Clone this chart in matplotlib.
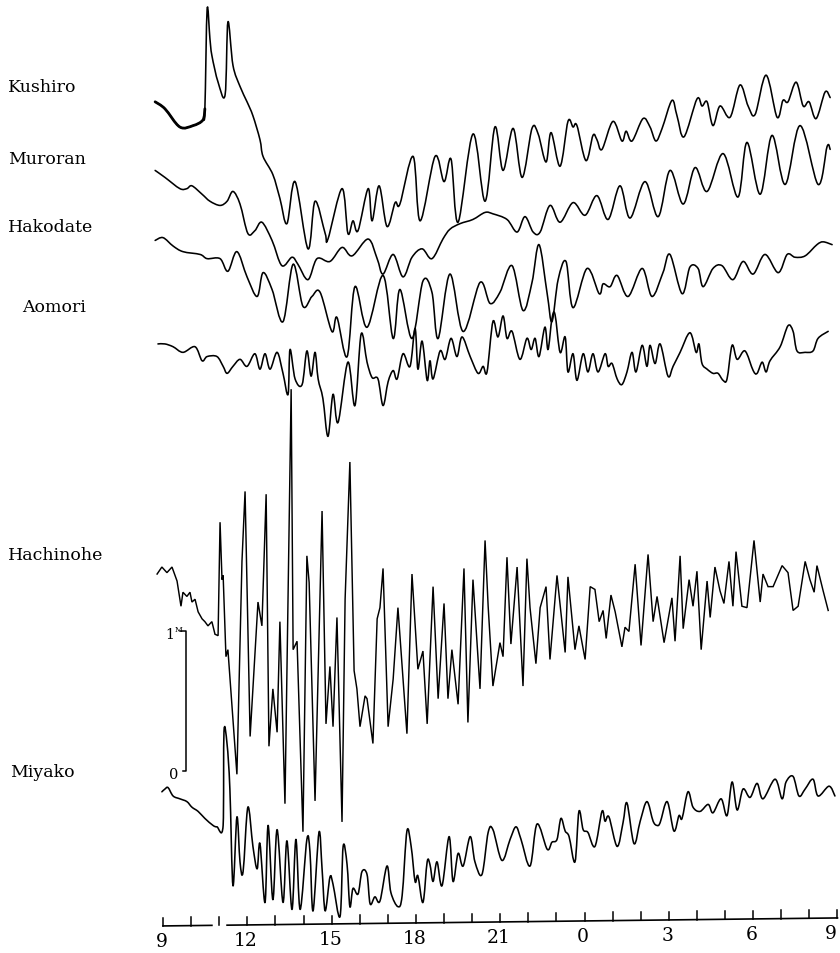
import numpy as np
import matplotlib
matplotlib.use("Agg")
import matplotlib.pyplot as plt
from matplotlib.path import Path
from matplotlib.patches import PathPatch

# Tide-gauge records: (hours after 09:00, water level in cm) for each station
kushiro = [(-0.28, -2), (0.07, -7), (0.60, -20), (1.07, -19), (1.42, -15), (1.49, -7),
           (1.57, 64), (1.67, 43), (1.74, 31), (1.96, 12), (2.21, 3), (2.31, 55),
           (2.49, 24), (2.74, 9), (2.99, -2), (3.20, -12), (3.45, -29), (3.56, -41),
           (3.91, -54), (4.16, -71), (4.41, -89), (4.70, -59), (5.16, -107), (5.41, -73),
           (5.77, -96), (5.87, -100), (6.37, -64), (6.58, -96), (6.76, -87), (6.94, -94),
           (7.30, -64), (7.44, -87), (7.69, -62), (7.97, -91), (8.26, -74), (8.43, -75),
           (8.90, -41), (9.15, -87), (9.68, -41), (10.00, -59), (10.25, -43), (10.50, -88),
           (11.03, -25), (11.46, -73), (11.81, -20), (12.10, -51), (12.46, -21), (12.78, -56),
           (13.13, -21), (13.35, -25), (13.63, -45), (13.81, -24), (14.13, -48), (14.41, -16),
           (14.59, -20), (14.73, -19), (15.05, -44), (15.30, -26), (15.44, -29), (15.62, -36),
           (16.01, -16), (16.33, -30), (16.48, -23), (16.69, -30), (17.08, -14), (17.33, -20),
           (17.54, -30), (17.76, -21), (18.11, -1), (18.29, -12), (18.54, -27), (19.00, 0),
           (19.18, -5), (19.36, -2), (19.57, -19), (19.82, -5), (20.18, -13), (20.53, 10),
           (20.82, -5), (21.07, -11), (21.46, 17), (21.85, -13), (22.06, -1), (22.24, -2),
           (22.53, 12), (22.78, -5), (22.99, -2), (23.24, -14), (23.56, 5), (23.74, 1)]

muroran = [(-0.28, -1), (0.07, -6), (0.60, -14), (0.85, -14), (1.03, -12), (1.39, -18),
           (1.67, -23), (2.03, -26), (2.28, -23), (2.49, -16), (2.74, -25), (3.02, -46),
           (3.27, -44), (3.52, -38), (3.88, -51), (4.23, -69), (4.59, -63), (4.80, -68),
           (5.16, -79), (5.48, -64), (5.94, -66), (6.37, -56), (6.73, -62), (7.30, -50),
           (7.62, -64), (7.83, -75), (8.19, -61), (8.54, -77), (8.86, -63), (9.22, -57),
           (9.57, -64), (9.96, -50), (10.21, -43), (10.57, -39), (11.03, -36), (11.46, -31),
           (11.74, -32), (12.24, -36), (12.60, -45), (12.88, -34), (13.17, -45), (13.42, -45),
           (13.77, -26), (14.13, -38), (14.59, -24), (15.02, -33), (15.44, -19), (15.84, -36),
           (16.26, -12), (16.62, -35), (17.15, -9), (17.62, -34), (18.04, -1), (18.51, -25),
           (18.93, 1), (19.36, -16), (19.93, 11), (20.46, -20), (20.78, 19), (21.25, -18),
           (21.67, 24), (22.14, -11), (22.67, 31), (23.31, -11), (23.63, 16), (23.74, 14)]

hakodate = [(-0.28, -1), (0.00, 1), (0.36, -5), (0.71, -9), (1.32, -11), (1.57, -14),
            (2.03, -14), (2.31, -23), (2.63, -9), (2.99, -27), (3.35, -41), (3.56, -24),
            (3.88, -36), (4.27, -59), (4.63, -18), (4.98, -48), (5.30, -41), (5.59, -38),
            (6.01, -66), (6.19, -56), (6.55, -84), (6.83, -34), (7.26, -63), (7.83, -26),
            (8.19, -71), (8.43, -36), (8.86, -71), (9.25, -30), (9.57, -38), (9.79, -71),
            (10.21, -25), (10.68, -66), (11.28, -31), (11.64, -46), (11.99, -38), (12.42, -19),
            (12.81, -51), (13.13, -31), (13.38, -4), (13.67, -39), (13.84, -59), (14.06, -29),
            (14.34, -16), (14.59, -49), (15.09, -21), (15.52, -39), (15.66, -32), (15.91, -34),
            (16.16, -26), (16.55, -41), (17.05, -21), (17.40, -41), (17.79, -24), (18.04, -11),
            (18.47, -39), (18.75, -20), (19.04, -21), (19.22, -34), (19.57, -21), (19.89, -19),
            (20.28, -29), (20.64, -16), (21.00, -25), (21.42, -11), (21.89, -24), (22.21, -11),
            (22.49, -13), (22.85, -12), (23.27, -4), (23.49, -2), (23.81, -4)]

aomori = [(-0.18, 0), (0.07, 0), (0.36, -2), (0.71, -6), (1.14, -2), (1.39, -12),
          (1.57, -9), (1.92, -9), (2.14, -16), (2.28, -21), (2.49, -16), (2.74, -11),
          (2.99, -16), (3.27, -7), (3.45, -18), (3.63, -7), (3.81, -18), (4.06, -6),
          (4.27, -21), (4.45, -36), (4.52, -4), (4.70, -25), (4.95, -29), (5.12, -5),
          (5.27, -23), (5.41, -6), (5.52, -25), (5.69, -39), (5.87, -66), (6.05, -36),
          (6.23, -56), (6.58, -13), (6.83, -44), (7.05, 7), (7.26, -13), (7.44, -24),
          (7.65, -25), (7.83, -44), (8.01, -27), (8.19, -19), (8.33, -25), (8.54, -7),
          (8.79, -16), (8.97, 11), (9.07, -18), (9.22, 2), (9.40, -26), (9.50, -12),
          (9.61, -25), (9.86, -5), (10.04, -11), (10.25, 4), (10.46, -9), (10.64, 5),
          (10.93, -9), (11.21, -21), (11.39, -16), (11.53, -20), (11.74, 16), (11.92, 5),
          (12.10, 20), (12.24, 4), (12.42, 9), (12.70, -11), (12.95, 4), (13.10, -4),
          (13.24, 4), (13.38, -9), (13.59, 12), (13.70, -4), (13.84, 18), (13.95, 21),
          (14.13, -6), (14.31, 5), (14.41, -20), (14.59, -7), (14.73, -26), (14.95, -7),
          (15.12, -20), (15.30, -7), (15.48, -20), (15.73, -7), (15.84, -16), (15.98, -14),
          (16.16, -25), (16.33, -29), (16.51, -20), (16.69, -6), (16.83, -20), (17.05, -1),
          (17.22, -16), (17.33, -1), (17.51, -14), (17.69, 0), (17.97, -23), (18.15, -16),
          (18.40, -6), (18.75, 8), (18.97, -6), (19.07, 0), (19.18, -14), (19.36, -18),
          (19.57, -21), (19.75, -21), (19.93, -26), (20.07, -25), (20.25, -1), (20.43, -11),
          (20.71, -5), (21.00, -19), (21.14, -21), (21.32, -13), (21.46, -20), (21.60, -12),
          (21.96, -2), (22.24, 13), (22.42, 9), (22.56, -5), (22.85, -6), (23.13, -5),
          (23.31, 4), (23.67, 9)]

hachinohe = [(-0.21, 0), (-0.04, 5), (0.14, 1), (0.32, 5), (0.50, -5), (0.64, -23),
             (0.71, -13), (0.85, -16), (0.96, -13), (1.03, -20), (1.14, -18), (1.25, -27),
             (1.39, -32), (1.49, -34), (1.60, -37), (1.74, -34), (1.85, -43), (1.96, -44),
             (2.03, 37), (2.10, -4), (2.14, -1), (2.24, -59), (2.31, -54), (2.63, -143),
             (2.81, 9), (2.92, 59), (3.10, -116), (3.38, -20), (3.52, -37), (3.67, 57),
             (3.77, -123), (3.91, -82), (4.06, -113), (4.16, -34), (4.34, -164), (4.56, 132),
             (4.63, -54), (4.77, -48), (4.98, -184), (5.12, 13), (5.20, -6), (5.41, -162),
             (5.66, 45), (5.80, -107), (5.94, -66), (6.05, -109), (6.19, -31), (6.37, -177),
             (6.48, -18), (6.65, 80), (6.80, -69), (6.90, -82), (7.01, -109), (7.19, -87),
             (7.26, -89), (7.47, -121), (7.62, -32), (7.72, -24), (7.83, 4), (8.01, -109),
             (8.19, -75), (8.36, -24), (8.68, -114), (8.86, 0), (9.07, -68), (9.25, -55),
             (9.40, -107), (9.61, -9), (9.79, -89), (10.00, -21), (10.14, -89), (10.28, -54),
             (10.50, -93), (10.71, 4), (10.85, -106), (11.03, -4), (11.28, -82), (11.46, 24),
             (11.57, -23), (11.74, -80), (11.99, -49), (12.10, -59), (12.24, 12), (12.38, -50),
             (12.60, 5), (12.81, -80), (12.95, 11), (13.06, -24), (13.27, -64), (13.42, -24),
             (13.63, -9), (13.77, -61), (14.02, -1), (14.31, -56), (14.41, -2), (14.66, -54),
             (14.80, -37), (15.02, -61), (15.20, -9), (15.37, -11), (15.52, -34), (15.66, -26),
             (15.77, -46), (15.94, -15), (16.09, -27), (16.33, -52), (16.44, -38), (16.58, -41),
             (16.80, 7), (17.01, -51), (17.26, 14), (17.44, -34), (17.58, -16), (17.83, -49),
             (18.11, -17), (18.22, -48), (18.40, 13), (18.51, -39), (18.72, -4), (18.86, -23),
             (19.00, 2), (19.15, -54), (19.36, -5), (19.47, -31), (19.64, 5), (19.82, -12),
             (19.96, -21), (20.14, 9), (20.28, -23), (20.39, 16), (20.60, -23), (20.78, -24),
             (21.03, 24), (21.25, -20), (21.35, 0), (21.53, -9), (21.71, -9), (22.03, 6),
             (22.24, 1), (22.42, -26), (22.60, -23), (22.85, 9), (23.02, -4), (23.17, -13),
             (23.27, 6), (23.49, -12), (23.67, -26)]

miyako = [(-0.04, -2), (0.07, 0), (0.18, 1), (0.36, -5), (0.60, -7), (0.85, -9),
          (1.03, -13), (1.25, -16), (1.49, -21), (1.78, -26), (1.92, -27), (2.14, -26),
          (2.17, 41), (2.28, 32), (2.38, 0), (2.49, -69), (2.63, -20), (2.74, -52),
          (2.85, -59), (3.02, -13), (3.20, -41), (3.35, -57), (3.45, -39), (3.63, -81),
          (3.74, -26), (3.91, -79), (4.06, -29), (4.27, -81), (4.41, -37), (4.59, -86),
          (4.73, -36), (4.88, -86), (5.12, -36), (5.23, -45), (5.34, -87), (5.55, -31),
          (5.66, -57), (5.77, -87), (5.94, -63), (6.05, -68), (6.30, -91), (6.41, -41),
          (6.55, -54), (6.65, -84), (6.76, -71), (6.94, -75), (7.08, -59), (7.26, -61),
          (7.37, -82), (7.54, -77), (7.72, -80), (7.97, -55), (8.11, -74), (8.36, -84),
          (8.51, -76), (8.68, -30), (8.83, -41), (8.97, -66), (9.07, -62), (9.25, -81),
          (9.40, -52), (9.50, -54), (9.61, -66), (9.75, -52), (9.93, -69), (10.18, -34),
          (10.32, -66), (10.50, -46), (10.68, -55), (10.93, -34), (11.10, -52), (11.35, -61),
          (11.57, -31), (11.74, -29), (12.06, -51), (12.35, -36), (12.56, -27), (12.74, -36),
          (13.06, -55), (13.31, -25), (13.67, -43), (13.84, -38), (14.02, -36), (14.16, -21),
          (14.31, -30), (14.45, -34), (14.66, -52), (14.80, -16), (14.95, -29), (15.12, -31),
          (15.37, -41), (15.62, -16), (15.73, -23), (15.87, -20), (16.16, -41), (16.37, -24),
          (16.51, -10), (16.76, -39), (16.98, -23), (17.22, -9), (17.44, -23), (17.58, -26),
          (17.69, -24), (17.94, -9), (18.18, -30), (18.36, -19), (18.47, -21), (18.68, -2),
          (18.86, -13), (19.11, -16), (19.40, -11), (19.57, -17), (19.86, -7), (20.07, -19),
          (20.25, 5), (20.43, -15), (20.64, 0), (20.89, -6), (21.14, 4), (21.35, -7),
          (21.78, 7), (22.03, -7), (22.17, 5), (22.42, 9), (22.63, -5), (22.85, 0),
          (23.13, 7), (23.31, -5), (23.70, 2), (23.91, -5)]

station_names = ["Kushiro", "Muroran", "Hakodate", "Aomori", "Hachinohe", "Miyako"]
records = [kushiro, muroran, hakodate, aomori, hachinohe, miyako]

tick_hours = [0, 3, 6, 9, 12, 15, 18, 21, 24]
tick_labels = ["9", "12", "15", "18", "21", "0", "3", "6", "9"]
scale_bar_cm = 100

# ---- sheet layout -------------------------------------------------------
# Each trace is drawn at its own vertical offset (cm on the sheet, downward negative)
offsets = {"Kushiro": -71.4, "Muroran": -121.4, "Hakodate": -171.4,
           "Aomori": -246.3, "Hachinohe": -410.6, "Miyako": -564.1}
label_pos = {"Kushiro": (8, 88), "Muroran": (8, 160), "Hakodate": (8, 228),
             "Aomori": (22, 308), "Hachinohe": (8, 555), "Miyako": (10, 773)}
# pen-like traces are drawn as smooth curves, the Hachinohe record stays sharp
smooth = {"Kushiro": True, "Muroran": True, "Hakodate": True,
          "Aomori": True, "Hachinohe": False, "Miyako": True}

W, H = 840, 954
fig = plt.figure(figsize=(W / 100, H / 100), dpi=100)
ax = fig.add_axes([0, 0, 1, 1])
ax.set_xlim(-5.80, 24.09)
ax.set_ylim(-681.2, 0)
ax.axis("off")

serif = ["DejaVu Serif"]


def curve_through(t, y):
    """Cubic Bezier path passing through every reading (Catmull-Rom tangents)."""
    n = len(t)
    verts = [(t[0], y[0])]
    codes = [Path.MOVETO]
    for i in range(n - 1):
        i0, i2 = max(i - 1, 0), min(i + 2, n - 1)
        c1x = t[i] + (t[i + 1] - t[i0]) / 6.0
        c1y = y[i] + (y[i + 1] - y[i0]) / 6.0
        c2x = t[i + 1] - (t[i2] - t[i]) / 6.0
        c2y = y[i + 1] - (y[i2] - y[i]) / 6.0
        c1x = min(max(c1x, t[i]), t[i + 1])
        c2x = min(max(c2x, t[i]), t[i + 1])
        verts += [(c1x, c1y), (c2x, c2y), (t[i + 1], y[i + 1])]
        codes += [Path.CURVE4, Path.CURVE4, Path.CURVE4]
    return Path(verts, codes)


for name, rec in zip(station_names, records):
    t, lv = np.array(rec, dtype=float).T
    yy = lv + offsets[name]
    if smooth[name]:
        ax.add_patch(PathPatch(curve_through(t, yy), facecolor="none",
                               edgecolor="black", lw=1.15, joinstyle="round",
                               capstyle="round"))
    else:
        ax.plot(t, yy, color="black", lw=1.05, solid_joinstyle="miter")
    x, y = label_pos[name]
    fig.text(x / W, 1 - y / H, name, family=serif, fontsize=12.5,
             ha="left", va="center", color="black")

# heavier pen stroke at the start of the Kushiro record
kt, kl = np.array(kushiro[:6], dtype=float).T
ax.add_patch(PathPatch(curve_through(kt, kl + offsets["Kushiro"]), facecolor="none",
                       edgecolor="black", lw=2.0, capstyle="round"))

# scale bar: 0 to 1 m
bar_t, bar_base = 0.82, -551.4
ax.plot([bar_t - 0.2, bar_t, bar_t, bar_t - 0.12],
        [bar_base + scale_bar_cm, bar_base + scale_bar_cm, bar_base, bar_base],
        color="black", lw=1.1)
ax.text(0.40, bar_base + scale_bar_cm - 2, "1", family=serif, fontsize=10,
        ha="right", va="center")
ax.text(0.41, bar_base + scale_bar_cm + 1.5, "M", family=serif, fontsize=5.5,
        ha="left", va="center")
ax.text(0.55, bar_base - 2, "0", family=serif, fontsize=10.5,
        ha="right", va="center")

# time axis with hourly ticks (slightly skewed baseline of the sheet)
y_left, y_right = -927 * 0.714, -919 * 0.714


def axis_y(h):
    return y_left + (y_right - y_left) * h / 24.0


gap = (1.74, 2.28)
ax.plot([0, gap[0]], [axis_y(0), axis_y(gap[0])], color="black", lw=1.2)
ax.plot([gap[1], 24], [axis_y(gap[1]), axis_y(24)], color="black", lw=1.2)
for h in range(0, 25):
    ax.plot([h, h], [axis_y(h), axis_y(h) + 6], color="black", lw=1.1)
for h, lab in zip(tick_hours, tick_labels):
    hx = min(h, 23.82) - 0.05
    ax.text(hx, axis_y(h) - 11, lab, family=serif, fontsize=13.5,
            ha="center", va="center")

fig.savefig("out.png", dpi=100, facecolor="white")
